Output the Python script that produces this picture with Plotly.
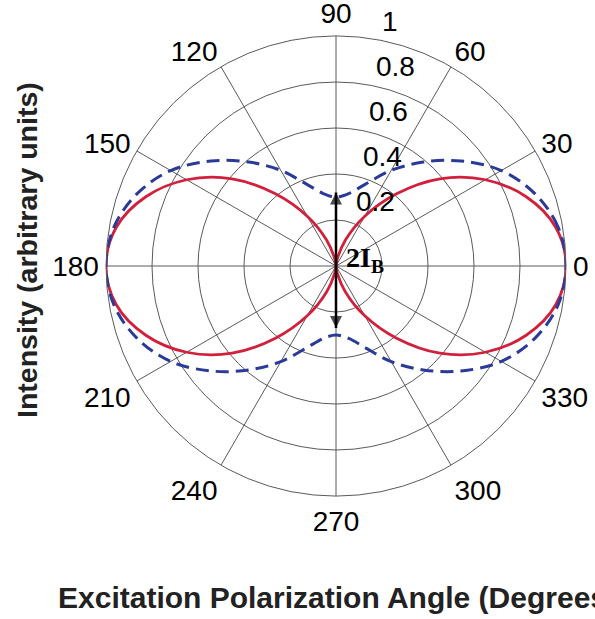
import plotly.graph_objects as go

# ---- data ----
angles = [0, 10, 20, 30, 40, 50, 60, 70, 80, 90, 100, 110, 120, 130, 140, 150, 160, 170,
          180, 190, 200, 210, 220, 230, 240, 250, 260, 270, 280, 290, 300, 310, 320, 330,
          340, 350, 360]
red_intensity = [1.00, 0.97, 0.88, 0.75, 0.59, 0.41, 0.25, 0.12, 0.03, 0.00, 0.03, 0.12,
                 0.25, 0.41, 0.59, 0.75, 0.88, 0.97, 1.00, 0.97, 0.88, 0.75, 0.59, 0.41,
                 0.25, 0.12, 0.03, 0.00, 0.03, 0.12, 0.25, 0.41, 0.59, 0.75, 0.88, 0.97, 1.00]
blue_intensity = [1.00, 0.98, 0.92, 0.83, 0.71, 0.59, 0.48, 0.38, 0.32, 0.30, 0.32, 0.38,
                  0.48, 0.59, 0.71, 0.83, 0.92, 0.98, 1.00, 0.98, 0.92, 0.83, 0.71, 0.59,
                  0.48, 0.38, 0.32, 0.30, 0.32, 0.38, 0.48, 0.59, 0.71, 0.83, 0.92, 0.98, 1.00]
angle_ticks = [0, 30, 60, 90, 120, 150, 180, 210, 240, 270, 300, 330]
radial_ticks = [0.2, 0.4, 0.6, 0.8, 1.0]
radial_tick_text = ["0.2", "0.4", "0.6", "0.8", "1"]
arrow_r = [0.32, 0.0, 0.27]
arrow_theta = [90, 90, 270]
arrow_label = "2I<sub>B</sub>"

SANS = "Liberation Sans, Arial, sans-serif"
SERIF = "Liberation Serif, Times New Roman, serif"
GRID = "#5a5a5a"

W, H = 595, 619
# polar plot area (pixels)
CX, CY, R = 336, 266, 230
dom_x = [(CX - R) / W, (CX + R) / W]
dom_y = [1 - (CY + R) / H, 1 - (CY - R) / H]


def px(x):
    return x / W


def py(y):
    return 1 - y / H


fig = go.Figure()

fig.add_trace(go.Scatterpolar(
    r=red_intensity, theta=angles, mode="lines",
    line=dict(color="#d21f3c", width=2.8, shape="spline"),
    hoverinfo="skip", showlegend=False))

fig.add_trace(go.Scatterpolar(
    r=blue_intensity, theta=angles, mode="lines",
    line=dict(color="#2a3a98", width=3, dash="13px,7px", shape="spline"),
    hoverinfo="skip", showlegend=False))

fig.add_trace(go.Scatterpolar(
    r=arrow_r, theta=arrow_theta, mode="lines+markers",
    line=dict(color="black", width=2.5),
    marker=dict(symbol=["arrow-up", "circle", "arrow-down"], size=[12, 0, 12],
                color="black", line=dict(width=0)),
    hoverinfo="skip", showlegend=False))

annotations = []
# radial tick labels, beside the rings (slightly outward and to the right)
for v, t in zip(radial_ticks, radial_tick_text):
    annotations.append(dict(
        text=t, x=px(CX + 18 + 32.5 * (v - 0.2)), y=py(CY - (20 + 224 * v)),
        xref="paper", yref="paper", xanchor="left", yanchor="middle",
        showarrow=False, font=dict(family=SANS, size=28, color="black")))

annotations.append(dict(
    text="<b>" + arrow_label + "</b>", x=px(CX + 8), y=py(CY - 6),
    xref="paper", yref="paper", xanchor="left", yanchor="middle",
    showarrow=False, font=dict(family=SERIF, size=28, color="black")))

annotations.append(dict(
    text="<b>Intensity (arbitrary units)</b>", x=px(27), y=py(250),
    xref="paper", yref="paper", xanchor="center", yanchor="middle",
    textangle=-90, showarrow=False,
    font=dict(family=SANS, size=28.5, color="#222222")))
annotations.append(dict(
    text="<b>Excitation Polarization Angle (Degrees)</b>", x=px(56), y=py(597),
    xref="paper", yref="paper", xanchor="left", yanchor="middle",
    showarrow=False, font=dict(family=SANS, size=30, color="#222222")))

fig.update_layout(
    width=W, height=H,
    margin=dict(l=0, r=0, t=0, b=0),
    paper_bgcolor="white", plot_bgcolor="white",
    showlegend=False,
    polar=dict(
        domain=dict(x=dom_x, y=dom_y),
        bgcolor="white",
        angularaxis=dict(
            rotation=0, direction="counterclockwise",
            tickmode="array", tickvals=angle_ticks,
            ticktext=[str(a) for a in angle_ticks],
            showline=True, linecolor=GRID, linewidth=1,
            showgrid=True, gridcolor=GRID, gridwidth=1,
            ticks="outside", ticklen=1, tickcolor="rgba(0,0,0,0)",
            tickfont=dict(family=SANS, size=28, color="black")),
        radialaxis=dict(
            range=[0, 1], tickmode="array", tickvals=radial_ticks,
            showgrid=True, gridcolor=GRID, gridwidth=1,
            showline=False, ticks="", showticklabels=False),
    ),
    annotations=annotations,
)

fig.write_html("out.html")
